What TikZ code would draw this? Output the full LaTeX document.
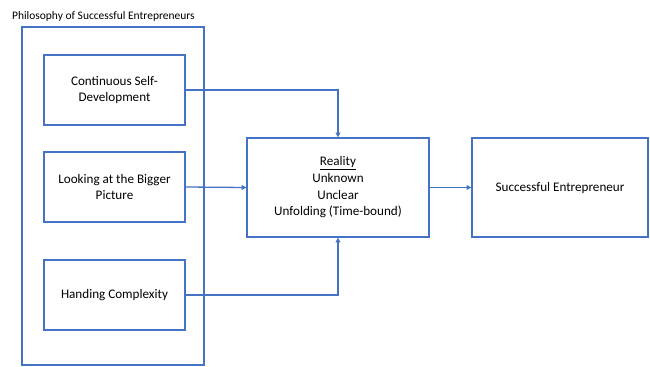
\documentclass[tikz,border=0pt]{standalone}
\usepackage{fontspec}
\setmainfont{Carlito}
\usepackage{tikz}
\usetikzlibrary{positioning}
\usetikzlibrary{arrows.meta}
\definecolor{boxblue}{RGB}{68,114,196}

\begin{document}
\begin{tikzpicture}[
        x=0.03cm, y=-0.03cm,
        every node/.style = {
        font=\fontsize{11.2}{14.2}\selectfont, align=center, text=black
        },
        box/.style = {
        draw=boxblue, line width=1.1pt, minimum width=4.23cm, minimum height=2.1cm
        },
        bigbox/.style = {
        draw=boxblue, line width=1.1pt, minimum height=2.97cm
        },
        arr/.style = {
        draw=boxblue, line width=1.1pt, -{Triangle[length=4pt, width=4pt]}
        }
        ]
    \useasboundingbox (0,0) rectangle (650,366);
    % philosophy group
    \node[draw=boxblue, line width=1.1pt, minimum width=5.46cm, minimum height=10.14cm] (philo) at (113,196) {};
    \node[anchor=west, font=\fontsize{9.8}{12}\selectfont] (title) at (8,16) {Philosophy of Successful Entrepreneurs};
    \node[box] (dev) at (114.5,90) {Continuous Self-\\Development};
    \node[box] (pic) at (114.5,187) {Looking at the Bigger\\Picture};
    \node[box] (hard) at (114.5,295) {Handing Complexity};
    % reality and outcome
    \node[bigbox, minimum width=5.46cm] (reality) at (338,187.5) {\underline{Reality}\\Unknown\\Unclear\\Unfolding (Time-bound)};
    \node[bigbox, minimum width=5.28cm] (success) at (560,187.5) {Successful Entrepreneur};
    % connectors
    \draw[arr] (dev.east) -| (reality.north);
    \draw[arr] (pic.east) -- (reality.west);
    \draw[arr] (hard.east) -| (reality.south);
    \draw[arr] (reality.east) -- (success.west);
\end{tikzpicture}
\end{document}
